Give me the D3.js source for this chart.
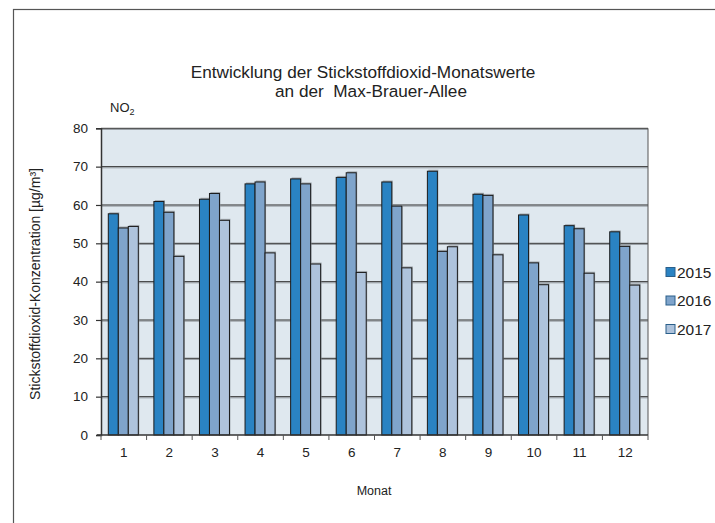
<!DOCTYPE html>
<html>
<head>
<meta charset="utf-8">
<script src="https://cdn.jsdelivr.net/npm/d3@7/dist/d3.min.js"></script>
<style>
  html, body { margin: 0; padding: 0; background: #fff; }
  svg { display: block; font-family: "Liberation Sans", Arial, sans-serif; }
</style>
</head>
<body>
<svg id="chart" width="715" height="523"></svg>
<script>
// Monthly NO2 means at Max-Brauer-Allee (µg/m³)
const months = ["1","2","3","4","5","6","7","8","9","10","11","12"];
const years = ["2015","2016","2017"];
const values2015 = [57.7, 60.9, 61.5, 65.5, 66.8, 67.2, 66.0, 68.8, 62.8, 57.4, 54.6, 53.0];
const values2016 = [54.0, 58.1, 63.0, 66.0, 65.5, 68.4, 59.7, 47.9, 62.5, 44.9, 53.8, 49.2];
const values2017 = [54.4, 46.6, 56.0, 47.5, 44.6, 42.4, 43.6, 49.1, 47.0, 39.2, 42.2, 39.1];
const yTicks = [0, 10, 20, 30, 40, 50, 60, 70, 80];
const colors = ["#2a83c3", "#7fa4cb", "#aec3dc"];

const series = [values2015, values2016, values2017];
const svg = d3.select("#chart");

// outer frame
svg.append("rect").attr("x", 13.5).attr("y", 9.5).attr("width", 720).attr("height", 530)
  .attr("fill", "none").attr("stroke", "#555").attr("stroke-width", 1.2);

const plot = { left: 101, right: 648, top: 128.3, bottom: 435 };

const x = d3.scaleBand().domain(months).range([plot.left, plot.right]).paddingInner(0).paddingOuter(0);
const y = d3.scaleLinear().domain([0, 80]).range([plot.bottom, plot.top]);
const inner = d3.scaleBand().domain(years).range([7.3, 37.3]);

// plot background
svg.append("rect").attr("x", plot.left).attr("y", plot.top)
  .attr("width", plot.right - plot.left).attr("height", plot.bottom - plot.top)
  .attr("fill", "#dfe8ef");

// gridlines with a soft shadow
const grid = svg.append("g");
yTicks.filter(t => t > 0).forEach(t => {
  grid.append("line").attr("x1", plot.left).attr("x2", plot.right)
    .attr("y1", y(t) + 1.2).attr("y2", y(t) + 1.2)
    .attr("stroke", "#9aa0a6").attr("stroke-width", 1);
  grid.append("line").attr("x1", plot.left).attr("x2", plot.right)
    .attr("y1", y(t)).attr("y2", y(t))
    .attr("stroke", "#333").attr("stroke-width", 1);
});
// right edge of the plot box
svg.append("line").attr("x1", plot.right).attr("x2", plot.right)
  .attr("y1", plot.top).attr("y2", plot.bottom).attr("stroke", "#555").attr("stroke-width", 1);

// bars
const bars = svg.append("g");
months.forEach((m, i) => {
  years.forEach((yr, j) => {
    const v = series[j][i];
    const bx = x(m) + inner(yr);
    const bw = inner.bandwidth();
    bars.append("rect").attr("x", bx + 1).attr("y", y(v) - 1.5)
      .attr("width", bw).attr("height", plot.bottom - y(v) + 1.5)
      .attr("fill", "#8f959b").attr("opacity", 0.7);
    bars.append("rect").attr("x", bx).attr("y", y(v))
      .attr("width", bw).attr("height", plot.bottom - y(v))
      .attr("fill", colors[j]).attr("stroke", "#1a1a1a").attr("stroke-width", 1);
  });
});

// y axis
const yAxis = d3.axisLeft(y).tickValues(yTicks).tickSize(5).tickPadding(8);
const gy = svg.append("g").attr("transform", `translate(${plot.left},0)`).call(yAxis);
gy.select(".domain").attr("stroke", "#333").attr("stroke-width", 1.5);
gy.selectAll(".tick line").attr("stroke", "#333").attr("stroke-width", 1.2);
gy.selectAll(".tick text").attr("font-size", 13.5).attr("fill", "#222")
  .attr("font-family", "Liberation Sans, Arial, sans-serif");

// x axis: ticks at category boundaries
const gx = svg.append("g").attr("transform", `translate(0,${plot.bottom})`);
gx.append("line").attr("x1", plot.left - 4).attr("x2", plot.right)
  .attr("y1", 0).attr("y2", 0).attr("stroke", "#333").attr("stroke-width", 1.5);
months.forEach(m => {
  gx.append("line").attr("x1", x(m)).attr("x2", x(m)).attr("y1", 0).attr("y2", 5)
    .attr("stroke", "#555").attr("stroke-width", 1);
});
gx.append("line").attr("x1", plot.right).attr("x2", plot.right).attr("y1", 0).attr("y2", 5)
  .attr("stroke", "#555").attr("stroke-width", 1);
gx.selectAll("text.month").data(months).enter().append("text")
  .attr("x", d => x(d) + x.bandwidth() / 2).attr("y", 22)
  .attr("text-anchor", "middle").attr("font-size", 13.5).attr("fill", "#222")
  .text(d => d);

// axis titles
svg.append("text").attr("x", 374).attr("y", 495).attr("text-anchor", "middle")
  .attr("font-size", 12.5).attr("fill", "#222").text("Monat");
svg.append("text").attr("transform", "translate(40,284) rotate(-90)")
  .attr("text-anchor", "middle").attr("font-size", 14).attr("fill", "#222")
  .text("Stickstoffdioxid-Konzentration [µg/m³]");

const no2 = svg.append("text").attr("x", 110).attr("y", 112).attr("font-size", 13).attr("fill", "#222");
no2.append("tspan").text("NO");
no2.append("tspan").attr("font-size", 9).attr("dy", 3).text("2");

// title
svg.append("text").attr("x", 363).attr("y", 78).attr("text-anchor", "middle")
  .attr("font-size", 17.2).attr("fill", "#222")
  .text("Entwicklung der Stickstoffdioxid-Monatswerte");
svg.append("text").attr("x", 371).attr("y", 97).attr("text-anchor", "middle")
  .attr("font-size", 17.2).attr("fill", "#222").attr("xml:space", "preserve")
  .style("white-space", "pre")
  .text("an der  Max-Brauer-Allee");

// legend
const legend = svg.append("g");
years.forEach((yr, j) => {
  const ly = 272 + j * 28.5;
  legend.append("rect").attr("x", 666).attr("y", ly - 4.5).attr("width", 9).attr("height", 9)
    .attr("fill", colors[j]).attr("stroke", "#2a5f8a").attr("stroke-width", 1);
  legend.append("text").attr("x", 677).attr("y", ly + 5.5)
    .attr("font-size", 15.5).attr("fill", "#222").text(yr);
});
</script>
</body>
</html>
